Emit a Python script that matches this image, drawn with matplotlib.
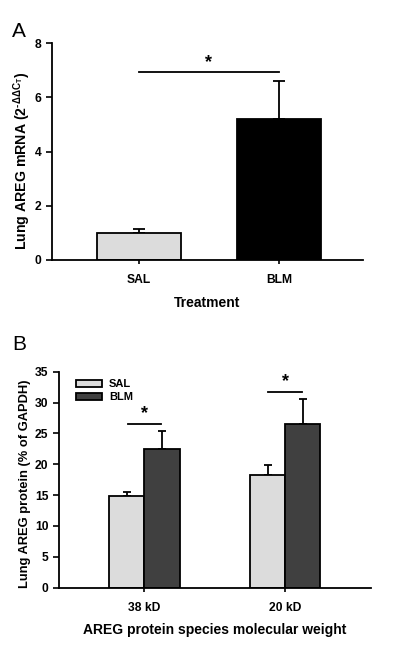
import matplotlib
matplotlib.use("Agg")
import matplotlib.pyplot as plt
import numpy as np

plt.rcParams['font.family'] = ['Liberation Sans', 'DejaVu Sans']
plt.rcParams['mathtext.fontset'] = 'custom'
plt.rcParams['mathtext.rm'] = 'Liberation Sans:bold'
plt.rcParams['mathtext.it'] = 'Liberation Sans:bold'
plt.rcParams['mathtext.bf'] = 'Liberation Sans:bold'

# Panel A data
a_categories = ['SAL', 'BLM']
a_values = [1.0, 5.2]
a_errors = [0.15, 1.42]
a_colors = ['#dcdcdc', '#000000']
a_yticks = [0, 2, 4, 6, 8]
a_sig_y = 6.95

# Panel B data
b_categories = ['38 kD', '20 kD']
b_series = ['SAL', 'BLM']
b_sal = [14.9, 18.25]
b_sal_err = [0.65, 1.62]
b_blm = [22.45, 26.45]
b_blm_err = [3.0, 4.05]
b_colors = ['#dcdcdc', '#404040']
b_yticks = [0, 5, 10, 15, 20, 25, 30, 35]
b_sig_y = [26.5, 31.65]

fig = plt.figure(figsize=(4.0, 6.49), dpi=100)

def style(ax):
    for s in ['top', 'right']:
        ax.spines[s].set_visible(False)
    for s in ['left', 'bottom']:
        ax.spines[s].set_linewidth(1.3)
    ax.tick_params(axis='both', direction='out', width=1.2, length=4, labelsize=8.7)
    ax.tick_params(axis='x', length=3, pad=7)
    for lbl in ax.get_xticklabels() + ax.get_yticklabels():
        lbl.set_fontweight('bold')

# Panel A
axA = fig.add_axes([0.13, 0.5994, 0.7775, 0.3339])
xA = np.arange(len(a_categories))
axA.bar(xA, a_values, width=0.6, color=a_colors, edgecolor='black', linewidth=1.3, zorder=2)
axA.errorbar(xA, a_values, yerr=[[0, 0], a_errors], fmt='none', ecolor='black',
             elinewidth=1.3, capsize=4, capthick=1.3, zorder=1)
axA.set_xlim(-0.62, 1.6)
axA.set_ylim(0, 8)
axA.set_yticks(a_yticks)
axA.set_xticks(xA)
axA.set_xticklabels(a_categories)
style(axA)
axA.set_xlabel('Treatment', fontsize=10, fontweight='bold', labelpad=7)
axA.set_ylabel(r'Lung AREG mRNA (2$^{\text{-}\Delta\Delta C_T}$)', fontsize=10.2, fontweight='bold')
axA.yaxis.set_label_coords(-0.062, 0.46)
axA.plot([0, 1], [a_sig_y, a_sig_y], color='black', lw=1.3, clip_on=False)
axA.text(0.5, a_sig_y + 0.02, '*', ha='center', va='bottom', fontsize=13, fontweight='bold')

# Panel B
axB = fig.add_axes([0.1467, 0.0945, 0.7808, 0.3328])
xB = np.arange(len(b_categories))
w = 0.25
axB.bar(xB - w/2, b_sal, width=w, color=b_colors[0], edgecolor='black', linewidth=1.3,
        zorder=2, label=b_series[0])
axB.bar(xB + w/2, b_blm, width=w, color=b_colors[1], edgecolor='black', linewidth=1.3,
        zorder=2, label=b_series[1])
axB.errorbar(xB - w/2, b_sal, yerr=[[0]*2, b_sal_err], fmt='none', ecolor='black',
             elinewidth=1.3, capsize=3, capthick=1.3, zorder=1)
axB.errorbar(xB + w/2, b_blm, yerr=[[0]*2, b_blm_err], fmt='none', ecolor='black',
             elinewidth=1.3, capsize=3, capthick=1.3, zorder=1)
axB.set_xlim(-0.61, 1.61)
axB.set_ylim(0, 35)
axB.set_yticks(b_yticks)
axB.set_xticks(xB)
axB.set_xticklabels(b_categories)
style(axB)
axB.set_xlabel('AREG protein species molecular weight', fontsize=10, fontweight='bold', labelpad=7)
axB.set_ylabel('Lung AREG protein (% of GAPDH)', fontsize=9.3, fontweight='bold')
axB.yaxis.set_label_coords(-0.088, 0.48)
for i, y in enumerate(b_sig_y):
    axB.plot([xB[i] - 0.12, xB[i] + 0.12], [y, y], color='black', lw=1.3)
    axB.text(xB[i], y + 0.3, '*', ha='center', va='bottom', fontsize=13, fontweight='bold')
leg = axB.legend(loc='upper left', bbox_to_anchor=(0.03, 1.0), frameon=False,
                 handlelength=2.4, handleheight=0.55, fontsize=8, handletextpad=0.6,
                 labelspacing=0.25, borderaxespad=0.3)
for t in leg.get_texts():
    t.set_fontweight('bold')

fig.text(0.03, 0.943, 'A', fontsize=15, ha='left', va='baseline')
fig.text(0.03, 0.461, 'B', fontsize=15, ha='left', va='baseline')

fig.savefig('out.png', dpi=100)
